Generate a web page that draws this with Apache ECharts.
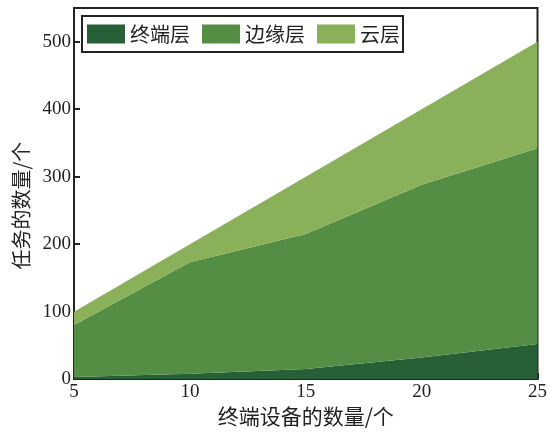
<!DOCTYPE html>
<html><head><meta charset="utf-8">
<script src="https://cdn.jsdelivr.net/npm/echarts@6/dist/echarts.min.js"></script>
<style>html,body{margin:0;padding:0;background:#fff}#c{width:550px;height:432px}</style>
</head><body><div id="c"></div>
<script>
const categories = ['5','10','15','20','25'];
const terminal = [3, 8, 15, 32, 52];
const edge = [77, 165, 200, 256, 290];
const cloud = [20, 27, 85, 112, 158];
const seriesNames = ['终端层','边缘层','云层'];
const colors = ['#275f37','#548d44','#8ab15a'];
const chart = echarts.init(document.getElementById('c'));
const serifNum = '"Liberation Serif","DejaVu Serif",serif';
const cjk = '"Noto Sans CJK SC",sans-serif';
function mk(name, data, color){
  return {name, type:'line', stack:'all', data, symbol:'none', smooth:false,
    lineStyle:{width:0}, areaStyle:{color, opacity:1}, itemStyle:{color}};
}
chart.setOption({
  animation:false,
  grid:{left:74,right:9,top:8,bottom:43,show:true,borderColor:'#222',borderWidth:2,backgroundColor:'transparent'},
  legend:{left:82,top:16,itemWidth:38,itemHeight:19,itemGap:12,padding:[8,3,8,5],
    borderColor:'#222',borderWidth:2,
    textStyle:{fontFamily:cjk,fontSize:20,color:'#222'},
    data:seriesNames.map((n,i)=>({name:n,icon:'rect',itemStyle:{color:colors[i]}}))},
  xAxis:{type:'category',data:categories,boundaryGap:false,
    axisLine:{lineStyle:{color:'#222',width:2}},
    axisTick:{inside:true,length:6,lineStyle:{color:'#222',width:2}},
    axisLabel:{fontFamily:serifNum,fontSize:19,color:'#222',margin:3},
    name:'终端设备的数量/个',nameLocation:'middle',nameGap:21,
    nameTextStyle:{fontFamily:cjk,fontSize:21,color:'#222'},
    splitLine:{show:false}},
  yAxis:{type:'value',min:0,max:550,interval:100,
    axisLine:{show:true,lineStyle:{color:'#222',width:2}},
    axisTick:{show:true,inside:true,length:6,lineStyle:{color:'#222',width:2}},
    axisLabel:{fontFamily:serifNum,fontSize:19,color:'#222',margin:3,
      formatter:v=> v%100===0 ? String(v) : ''},
    name:'任务的数量/个',nameLocation:'middle',nameGap:40,nameRotate:90,
    nameTextStyle:{fontFamily:cjk,fontSize:20,color:'#222',padding:[0,24,0,0]},
    splitLine:{show:false}},
  series:[mk(seriesNames[0],terminal,colors[0]),mk(seriesNames[1],edge,colors[1]),mk(seriesNames[2],cloud,colors[2])]
});
</script></body></html>
